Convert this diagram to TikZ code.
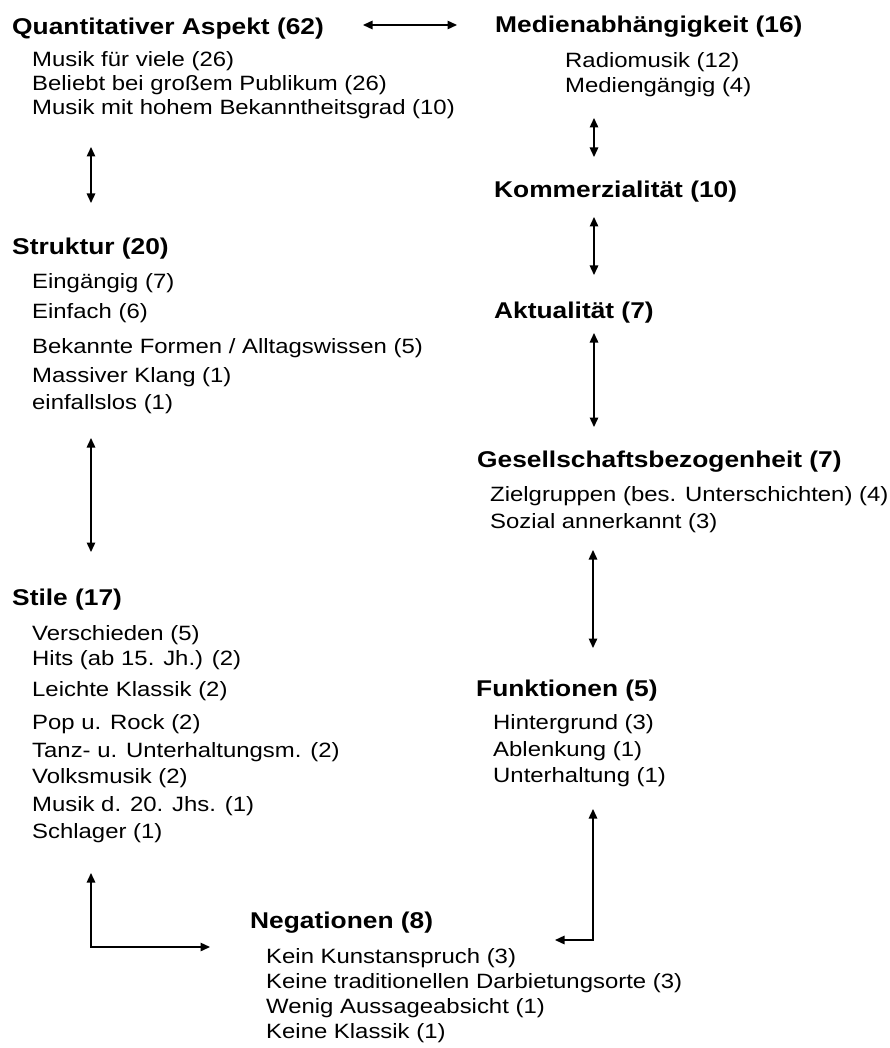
\documentclass[tikz,border=0pt]{standalone}
\usepackage{fontspec}
\setmainfont{Liberation Sans}[FakeStretch=1.155]
\usetikzlibrary{arrows.meta}
\begin{document}
\begin{tikzpicture}[x=1pt,y=-1pt,
  head/.style={font=\bfseries\fontsize{22.8}{27}\selectfont, anchor=base west, inner sep=0pt},
  item/.style={font=\fontsize{20.7}{24}\selectfont, anchor=base west, inner sep=0pt},
  link/.style={line width=1.4pt, {Triangle[width=8.5pt,length=9.5pt]}-{Triangle[width=8.5pt,length=9.5pt]}}]
\useasboundingbox (0,0) rectangle (890,1048);
% left column
\node[head] (quant) at (12,35) {Quantitativer Aspekt (62)};
\node[item] (q1) at (32,67) {Musik für viele (26)};
\node[item] (q2) at (32,91) {Beliebt bei großem Publikum (26)};
\node[item] (q3) at (32,115) {Musik mit hohem Bekanntheitsgrad (10)};
\node[head] (strukt) at (12,255) {Struktur (20)};
\node[item] (s1) at (32,288) {Eingängig (7)};
\node[item] (s2) at (32,318) {Einfach (6)};
\node[item] (s3) at (32,353) {Bekannte Formen / Alltagswissen (5)};
\node[item] (s4) at (32,382) {Massiver Klang (1)};
\node[item] (s5) at (32,409) {einfallslos (1)};
\node[head] (stile) at (12,605) {Stile (17)};
\node[item] (t1) at (32,640) {Verschieden (5)};
\node[item] (t2) at (32,665) {Hits (ab 15. Jh.) (2)};
\node[item] (t3) at (32,696) {Leichte Klassik (2)};
\node[item] (t4) at (32,729) {Pop u. Rock (2)};
\node[item] (t5) at (32,757) {Tanz- u. Unterhaltungsm. (2)};
\node[item] (t6) at (32,783) {Volksmusik (2)};
\node[item] (t7) at (32,811) {Musik d. 20. Jhs. (1)};
\node[item] (t8) at (32,838) {Schlager (1)};
\node[head] (neg) at (250,928) {Negationen (8)};
\node[item] (n1) at (266,963) {Kein Kunstanspruch (3)};
\node[item] (n2) at (266,988) {Keine traditionellen Darbietungsorte (3)};
\node[item] (n3) at (266,1013) {Wenig Aussageabsicht (1)};
\node[item] (n4) at (266,1038) {Keine Klassik (1)};
% right column
\node[head] (medien) at (495,33) {Medienabhängigkeit (16)};
\node[item] (m1) at (565,68) {Radiomusik (12)};
\node[item] (m2) at (565,93) {Mediengängig (4)};
\node[head] (komm) at (494,198) {Kommerzialität (10)};
\node[head] (akt) at (494,318) {Aktualität (7)};
\node[head] (ges) at (477,467) {Gesellschaftsbezogenheit (7)};
\node[item] (g1) at (490,501) {Zielgruppen (bes. Unterschichten) (4)};
\node[item] (g2) at (490,528) {Sozial annerkannt (3)};
\node[head] (funk) at (476,696) {Funktionen (5)};
\node[item] (f1) at (493,729) {Hintergrund (3)};
\node[item] (f2) at (493,756) {Ablenkung (1)};
\node[item] (f3) at (493,782) {Unterhaltung (1)};
% connector end points
\coordinate (qmA) at (363,25); \coordinate (qmB) at (457,25);
\coordinate (qsA) at (91,147); \coordinate (qsB) at (91,203);
\coordinate (ssA) at (91,438); \coordinate (ssB) at (91,552);
\coordinate (snA) at (91,873); \coordinate (snC) at (91,947); \coordinate (snB) at (210,947);
\coordinate (mkA) at (594,118); \coordinate (mkB) at (594,157);
\coordinate (kaA) at (594,217); \coordinate (kaB) at (594,275);
\coordinate (agA) at (594,333); \coordinate (agB) at (594,427);
\coordinate (gfA) at (593,550); \coordinate (gfB) at (593,648);
\coordinate (fnA) at (593,809); \coordinate (fnC) at (593,940); \coordinate (fnB) at (555,940);
% connectors
\draw[link] (qmA) -- (qmB);
\draw[link] (qsA) -- (qsB);
\draw[link] (ssA) -- (ssB);
\draw[link] (snA) -- (snC) -- (snB);
\draw[link] (mkA) -- (mkB);
\draw[link] (kaA) -- (kaB);
\draw[link] (agA) -- (agB);
\draw[link] (gfA) -- (gfB);
\draw[link] (fnA) -- (fnC) -- (fnB);
\end{tikzpicture}
\end{document}
